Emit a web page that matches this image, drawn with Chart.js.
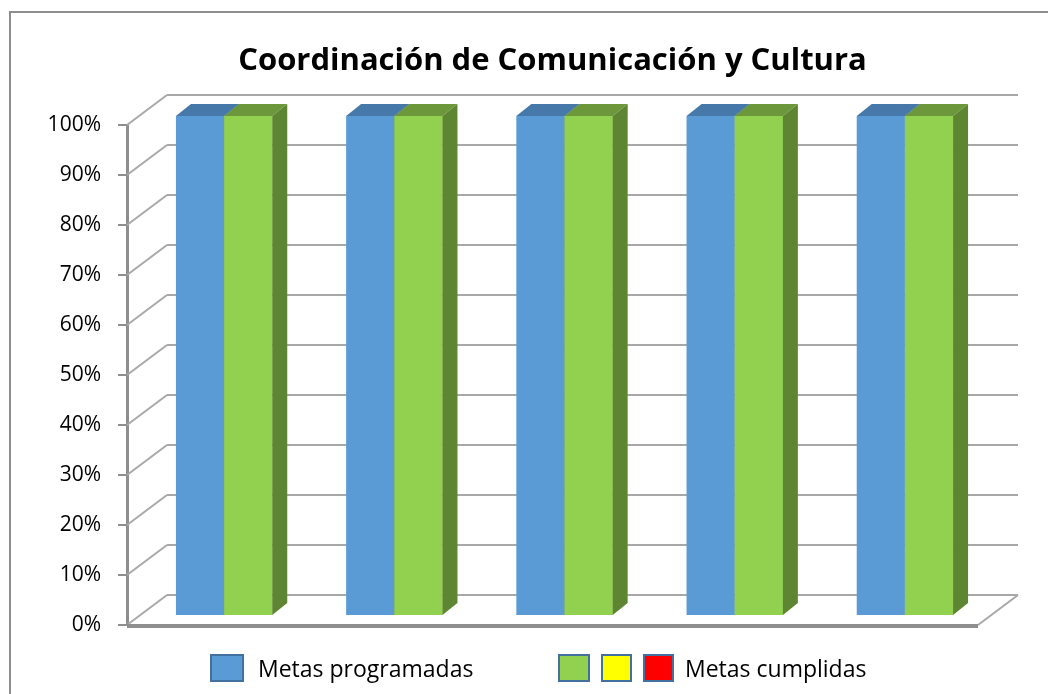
<!DOCTYPE html>
<html>
<head>
<meta charset="utf-8">
<script src="https://cdn.jsdelivr.net/npm/chart.js@4/dist/chart.umd.min.js"></script>
<style>
  body { margin: 0; background: #fff; }
  #wrap { position: relative; width: 1048px; height: 694px; overflow: hidden; font-family: "Open Sans", Lato, sans-serif; }
  #frame { position: absolute; left: 9px; top: 11px; width: 1100px; height: 720px; border: 2px solid #8e8e8e; box-sizing: border-box; }
  canvas { position: absolute; left: 0; top: 0; }
  .legend { position: absolute; top: 654px; height: 28px; display: flex; align-items: center; font-size: 23px; color: #000; }
  .legend .box { width: 34px; height: 28px; box-sizing: border-box; border: 2px solid #41719c; margin-right: 11px; }
</style>
</head>
<body>
<div id="wrap">
  <div id="frame"></div>
  <canvas id="chart" width="1048" height="694"></canvas>
  <div class="legend" style="left:210px">
    <span class="box" style="background:#5b9bd5; margin-right:14px"></span>Metas programadas
  </div>
  <div class="legend" style="left:558px">
    <span class="box" style="background:#92d050; width:32px"></span>
    <span class="box" style="background:#ffff00; width:31px"></span>
    <span class="box" style="background:#ff0000; width:31px"></span>Metas cumplidas
  </div>
</div>
<script>
// Chart data
const categories = ['1', '2', '3', '4', '5'];
const metasProgramadas = [100, 100, 100, 100, 100];
const metasCumplidas = [100, 100, 100, 100, 100];
const yTicks = [0, 10, 20, 30, 40, 50, 60, 70, 80, 90, 100];

// 3D look: wall depth, position of bars in depth, bar thickness
const WALL = { dx: 40, dy: -30 };
const BAR_SHIFT = { dx: 12, dy: -9 };
const BAR_DEPTH = { dx: 15, dy: -12 };
const GRID_COLOR = '#a8a8a8';
const AXIS_COLOR = '#8e8e8e';

const sideColors = ['#41719c', '#5e8532'];
const topColors = ['#4678a9', '#6c983b'];

function drawBarBox(ctx, bar, i) {
    const left = bar.x - bar.width / 2;
    const right = bar.x + bar.width / 2;
    const top = bar.y;
    const bottom = bar.base;
    // top face
    ctx.fillStyle = topColors[i];
    ctx.beginPath();
    ctx.moveTo(left, top);
    ctx.lineTo(left + BAR_DEPTH.dx, top + BAR_DEPTH.dy);
    ctx.lineTo(right + BAR_DEPTH.dx, top + BAR_DEPTH.dy);
    ctx.lineTo(right, top);
    ctx.closePath();
    ctx.fill();
    // right side face
    ctx.fillStyle = sideColors[i];
    ctx.beginPath();
    ctx.moveTo(right, top);
    ctx.lineTo(right + BAR_DEPTH.dx, top + BAR_DEPTH.dy);
    ctx.lineTo(right + BAR_DEPTH.dx, bottom + BAR_DEPTH.dy);
    ctx.lineTo(right, bottom);
    ctx.closePath();
    ctx.fill();
}

const threeD = {
    id: 'threeD',
    beforeDatasetsDraw(chart) {
        const ctx = chart.ctx;
        const area = chart.chartArea;
        const y = chart.scales.y;

        ctx.save();
        ctx.lineWidth = 2;
        ctx.strokeStyle = GRID_COLOR;
        yTicks.forEach(v => {
            const py = y.getPixelForValue(v);
            // back wall line
            ctx.beginPath();
            ctx.moveTo(area.left + WALL.dx, py + WALL.dy);
            ctx.lineTo(area.right + WALL.dx, py + WALL.dy);
            ctx.stroke();
            // side wall diagonal
            ctx.beginPath();
            ctx.moveTo(area.left, py);
            ctx.lineTo(area.left + WALL.dx, py + WALL.dy);
            ctx.stroke();
        });
        // floor right edge and front edge
        const base = y.getPixelForValue(0);
        ctx.beginPath();
        ctx.moveTo(area.right, base);
        ctx.lineTo(area.right + WALL.dx, base + WALL.dy);
        ctx.stroke();
        ctx.strokeStyle = AXIS_COLOR;
        ctx.lineWidth = 4;
        ctx.beginPath();
        ctx.moveTo(area.left, base + 1);
        ctx.lineTo(area.right, base + 1);
        ctx.stroke();
        ctx.restore();

        // bars sit in the middle of the floor depth
        ctx.save();
        ctx.translate(BAR_SHIFT.dx, BAR_SHIFT.dy);
    },
    afterDatasetsDraw(chart) {
        const ctx = chart.ctx;
        // left-to-right so each bar hides the side of the one before it
        chart.data.datasets.forEach((ds, i) => {
            chart.getDatasetMeta(i).data.forEach(bar => {
                if (i > 0) bar.draw(ctx);
                drawBarBox(ctx, bar, i);
            });
        });
        ctx.restore();
    }
};

new Chart(document.getElementById('chart'), {
    type: 'bar',
    data: {
        labels: categories,
        datasets: [
            {
                label: 'Metas programadas',
                data: metasProgramadas,
                backgroundColor: '#5b9bd5',
                clip: false
            },
            {
                label: 'Metas cumplidas',
                data: metasCumplidas,
                backgroundColor: '#92d050',
                clip: false
            }
        ]
    },
    options: {
        responsive: false,
        animation: false,
        layout: { padding: { left: 0, right: 70, top: 0, bottom: 0 } },
        datasets: {
            bar: { categoryPercentage: 0.566, barPercentage: 1.0, borderWidth: 0 }
        },
        scales: {
            x: {
                ticks: { display: false },
                grid: { display: false },
                border: { display: false },
                afterFit(scale) { scale.height = 69; }
            },
            y: {
                min: 0,
                max: 100,
                afterBuildTicks(scale) { scale.ticks = yTicks.map(v => ({ value: v })); },
                ticks: {
                    callback: v => v + '%',
                    color: '#000',
                    padding: 17,
                    font: { family: 'Open Sans', size: 21 }
                },
                grid: { drawOnChartArea: false, drawTicks: true, tickLength: 9, color: AXIS_COLOR, lineWidth: 2 },
                border: { display: true, color: AXIS_COLOR, width: 3 },
                afterFit(scale) { scale.width = 127; }
            }
        },
        plugins: {
            legend: { display: false },
            tooltip: { enabled: false },
            title: {
                display: true,
                fullSize: false,
                text: 'Coordinación de Comunicación y Cultura',
                color: '#000',
                font: { family: 'Open Sans', size: 31, weight: 'bold', lineHeight: 1.2 },
                padding: { top: 43, bottom: 44.8 }
            }
        }
    },
    plugins: [threeD]
});
</script>
</body>
</html>
